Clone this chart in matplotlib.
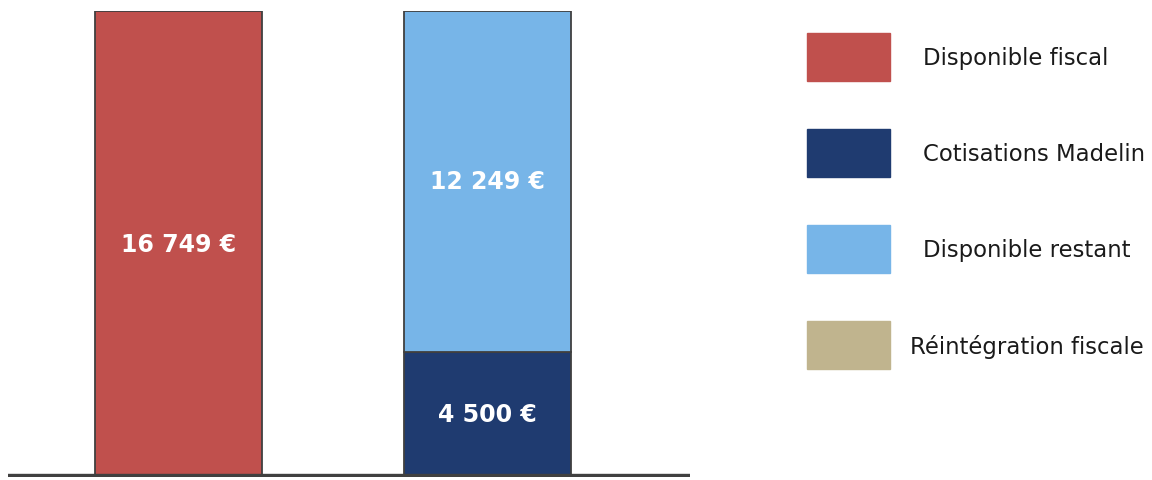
import matplotlib.pyplot as plt
from matplotlib.patches import Rectangle

# data
bars = ["Disponible fiscal", "Après Madelin"]
disponible_fiscal = [16749, 0]
cotisations_madelin = [0, 4500]
disponible_restant = [0, 12249]
legend_labels = ["Disponible fiscal", "Cotisations Madelin",
                 "Disponible restant", "Réintégration fiscale"]

c_red = "#C0504D"
c_navy = "#1F3B70"
c_blue = "#77B5E8"
c_tan = "#C0B48E"
edge = "#404040"

W, H = 1152, 481
fig = plt.figure(figsize=(W / 100, H / 100), dpi=100)

# bar axes (pixel layout: x 8..690, y 12..478)
ax = fig.add_axes([8 / W, (H - 478) / H, 682 / W, 466 / H])
x = [0, 1]
w = 0.54
ax.bar(x[0], disponible_fiscal[0], width=w, color=c_red, edgecolor=edge, linewidth=1.3, zorder=2)
ax.bar(x[1], cotisations_madelin[1], width=w, color=c_navy, edgecolor=edge, linewidth=1.3, zorder=2)
ax.bar(x[1], disponible_restant[1], bottom=cotisations_madelin[1], width=w,
       color=c_blue, edgecolor=edge, linewidth=1.3, zorder=2)
ax.axhline(0, color="#404040", lw=4.6, zorder=3, solid_capstyle="butt")
ax.set_xlim(-0.552, 1.655)
ax.set_ylim(0, 16749)
ax.axis("off")


def fmt(v):
    return "{:,}".format(v).replace(",", " ") + " €"


lab = dict(color="white", fontsize=17, fontweight="bold", family="DejaVu Sans",
           ha="center", va="center", zorder=4)
ax.text(x[0], disponible_fiscal[0] / 2, fmt(disponible_fiscal[0]), **lab)
ax.text(x[1], cotisations_madelin[1] / 2, fmt(cotisations_madelin[1]), **lab)
ax.text(x[1], cotisations_madelin[1] + disponible_restant[1] / 2,
        fmt(disponible_restant[1]), **lab)

# legend drawn in pixel coords
lg = fig.add_axes([0, 0, 1, 1])
lg.set_xlim(0, W)
lg.set_ylim(H, 0)
lg.axis("off")
colors = [c_red, c_navy, c_blue, c_tan]
tx = [923, 923, 923, 910]
for i, (name, c) in enumerate(zip(legend_labels, colors)):
    y0 = 34 + 96 * i
    lg.add_patch(Rectangle((807, y0), 83, 48, color=c))
    lg.text(tx[i], y0 + 25, name, fontsize=16.4, family="DejaVu Sans", color="#1a1a1a",
            ha="left", va="center")

fig.savefig("out.png", dpi=100)
